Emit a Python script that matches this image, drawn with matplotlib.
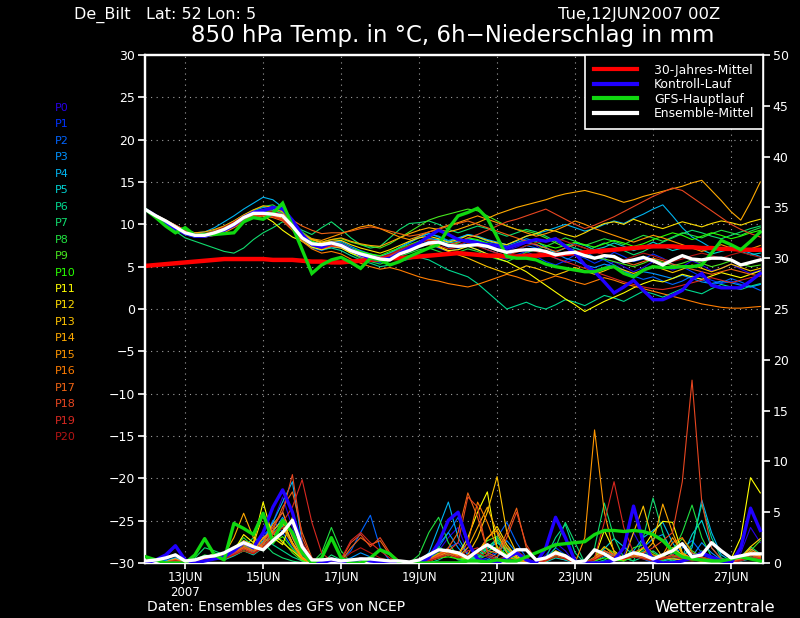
import matplotlib
matplotlib.use("Agg")
import matplotlib.pyplot as plt
import numpy as np
from matplotlib.lines import Line2D

# 6-hourly forecast steps from Tue,12JUN2007 00Z
steps = np.arange(64)
days = steps * 6 / 24.0

tick_days = [1, 3, 5, 7, 9, 11, 13, 15]
tick_labels = ["13JUN\n2007", "15JUN", "17JUN", "19JUN", "21JUN", "23JUN", "25JUN", "27JUN"]

member_names = ["P%d" % i for i in range(21)]
member_colors = ["#2800e6", "#0032ff", "#0064ff", "#0092ff", "#00b4f0", "#00d2d2",
                 "#00d890", "#10dc6e", "#20e040", "#46e61e", "#28ff00", "#ffff00",
                 "#ffdc00", "#ffc400", "#ffaa00", "#ff9600", "#ff7c00", "#f06414",
                 "#e84620", "#d82820", "#b41414"]

legend_labels = ["30-Jahres-Mittel", "Kontroll-Lauf", "GFS-Hauptlauf", "Ensemble-Mittel"]
legend_colors = ["#ff0000", "#2000ff", "#10d810", "#ffffff"]

# ---- 850 hPa temperature (degC) ----
t_clim = [5.1, 5.2, 5.3, 5.4, 5.5, 5.6, 5.7, 5.8,
          5.9, 5.9, 5.9, 5.9, 5.9, 5.8, 5.8, 5.8,
          5.7, 5.6, 5.6, 5.5, 5.5, 5.6, 5.7, 5.8,
          5.9, 6.0, 6.0, 6.1, 6.2, 6.3, 6.4, 6.5,
          6.6, 6.5, 6.4, 6.3, 6.3, 6.2, 6.2, 6.3,
          6.3, 6.4, 6.4, 6.5, 6.6, 6.7, 6.8, 6.9,
          7.0, 7.1, 7.2, 7.3, 7.4, 7.4, 7.4, 7.3,
          7.3, 7.2, 7.2, 7.1, 7.1, 7.0, 7.0, 7.0]
t_ctrl = [11.7, 11.0, 10.2, 9.5, 8.9, 8.6, 8.6, 8.9,
          9.3, 9.9, 10.8, 11.4, 11.6, 12.0, 11.8, 10.5,
          8.8, 7.6, 7.3, 7.8, 7.6, 7.0, 6.4, 6.0,
          5.8, 6.0, 6.6, 7.2, 7.8, 8.6, 9.3, 8.8,
          8.2, 8.0, 7.8, 7.6, 7.5, 7.2, 7.6, 7.9,
          8.2, 8.0, 8.3, 7.4, 6.6, 5.2, 4.4, 3.2,
          1.9, 2.6, 3.4, 2.2, 1.1, 1.1, 1.6, 2.2,
          3.5, 4.2, 2.8, 2.5, 2.5, 2.5, 3.3, 4.2]
t_gfs = [11.7, 10.8, 9.8, 9.0, 9.6, 8.7, 8.8, 8.8,
         8.9, 9.0, 10.3, 10.8, 10.6, 11.3, 12.5, 9.8,
         7.0, 4.2, 5.2, 5.8, 6.1, 5.5, 4.8, 6.0,
         5.8, 5.2, 5.6, 6.2, 6.7, 7.2, 7.6, 9.5,
         11.0, 11.4, 11.9, 10.7, 8.5, 6.2, 6.0, 6.0,
         5.8, 5.3, 5.0, 4.8, 4.6, 4.4, 4.4, 4.8,
         5.0, 4.2, 3.8, 4.6, 5.0, 4.9, 4.9, 5.0,
         5.0, 5.2, 6.6, 8.1, 7.6, 7.0, 8.0, 9.1]
t_mean = [11.7, 11.0, 10.4, 9.7, 9.0, 8.7, 8.7, 9.0,
          9.4, 10.0, 10.8, 11.3, 11.3, 11.2, 11.0, 9.8,
          8.4, 7.7, 7.6, 7.8, 7.5, 6.9, 6.5, 6.2,
          5.9, 5.8, 6.5, 6.9, 7.4, 7.8, 7.9, 7.5,
          7.4, 7.5, 7.6, 7.4, 7.0, 6.7, 6.9, 7.0,
          7.0, 6.8, 6.4, 6.6, 6.7, 6.3, 6.0, 6.3,
          6.2, 5.6, 5.8, 6.1, 5.7, 5.2, 5.8, 6.3,
          5.9, 5.8, 6.0, 6.0, 5.8, 5.2, 5.5, 5.8]

tp00 = [11.6, 11.0, 10.2, 9.6, 8.9, 8.6, 8.8, 9.1, 9.6, 10.2, 10.9, 11.5, 11.8, 11.6, 11.0, 9.6,
        8.2, 7.6, 7.4, 7.7, 7.4, 6.8, 6.4, 6.0, 5.7, 6.2, 6.8, 7.4, 8.0, 8.4, 8.1, 7.6,
        7.8, 8.3, 8.0, 7.6, 7.2, 6.9, 7.3, 7.8, 7.5, 6.6, 6.0, 5.5, 5.8, 5.2, 4.6, 4.9,
        5.6, 5.0, 4.4, 4.9, 5.6, 5.1, 4.6, 5.0, 5.7, 5.2, 4.5, 4.8, 5.3, 4.7, 4.2, 4.6]
tp01 = [11.7, 11.1, 10.4, 9.8, 9.2, 8.8, 8.6, 8.8, 9.2, 9.8, 10.5, 11.0, 11.3, 11.5, 11.3, 10.0,
        8.6, 7.8, 7.2, 7.5, 7.3, 6.6, 6.1, 5.7, 5.5, 5.9, 6.5, 7.0, 7.6, 7.7, 7.2, 6.8,
        7.1, 7.4, 7.0, 6.5, 6.1, 5.9, 6.4, 6.8, 6.2, 5.6, 5.2, 5.7, 6.4, 6.0, 5.4, 5.9,
        6.7, 6.2, 5.6, 5.9, 6.5, 6.0, 5.3, 5.0, 4.4, 3.8, 3.4, 3.0, 3.3, 2.9, 2.6, 2.9]
tp02 = [11.7, 11.0, 10.3, 9.7, 9.1, 8.7, 8.5, 8.7, 9.1, 9.7, 10.4, 11.0, 11.4, 11.2, 10.9, 9.5,
        8.0, 7.2, 6.9, 7.3, 7.2, 6.7, 6.4, 6.1, 5.9, 6.3, 6.9, 7.3, 7.6, 8.0, 7.8, 7.3,
        7.5, 7.9, 7.6, 7.0, 6.6, 6.3, 6.9, 7.5, 7.2, 6.8, 6.2, 6.6, 7.2, 6.8, 6.1, 5.8,
        5.2, 4.6, 3.9, 3.5, 3.8, 3.3, 2.9, 3.3, 3.9, 3.5, 2.9, 3.1, 3.6, 3.2, 2.7, 2.2]
tp03 = [11.7, 10.9, 10.2, 9.5, 8.8, 8.5, 8.6, 9.0, 9.5, 10.1, 10.9, 11.6, 12.0, 11.8, 11.2, 10.1,
        8.7, 7.9, 7.5, 7.9, 8.0, 7.4, 6.9, 6.5, 6.2, 6.6, 7.2, 7.8, 8.4, 8.9, 8.6, 8.1,
        8.4, 8.8, 8.5, 8.0, 7.7, 7.4, 7.8, 8.3, 8.0, 7.3, 6.6, 6.0, 5.7, 5.2, 4.9, 5.3,
        5.0, 4.4, 4.0, 4.4, 4.2, 3.9, 3.6, 4.0, 3.6, 3.2, 3.0, 3.3, 3.1, 2.8, 2.6, 2.9]
tp04 = [11.7, 11.1, 10.5, 9.9, 9.3, 9.0, 9.1, 9.6, 10.3, 11.0, 11.8, 12.5, 13.2, 12.9, 12.0, 10.6,
        9.0, 8.0, 7.6, 7.9, 7.8, 7.2, 6.7, 6.3, 6.1, 6.6, 7.3, 7.9, 8.6, 8.9, 8.5, 8.0,
        8.3, 8.8, 8.6, 8.2, 7.9, 7.6, 8.0, 8.6, 8.9, 9.2, 9.6, 10.0, 9.6, 9.2, 9.5, 10.0,
        10.4, 10.1, 10.7, 11.2, 11.8, 12.3, 11.0, 9.6, 8.5, 7.9, 7.2, 6.9, 7.4, 7.0, 6.6, 6.2]
tp05 = [11.6, 10.9, 10.2, 9.6, 9.0, 8.6, 8.5, 8.8, 9.3, 9.9, 10.6, 11.3, 11.7, 11.5, 10.9, 9.8,
        8.4, 7.6, 7.2, 7.6, 7.6, 7.0, 6.7, 6.4, 6.2, 6.6, 7.0, 7.5, 8.0, 8.3, 8.2, 7.8,
        8.0, 8.3, 8.1, 7.7, 7.4, 7.1, 7.5, 7.9, 7.6, 7.2, 6.7, 7.2, 7.8, 7.5, 7.0, 7.3,
        7.8, 7.4, 6.9, 7.3, 7.9, 7.4, 6.9, 7.2, 7.5, 7.0, 6.5, 6.8, 7.1, 6.8, 6.4, 6.6]
tp06 = [11.7, 11.0, 10.4, 9.8, 9.3, 8.9, 8.8, 9.0, 9.3, 9.8, 10.4, 10.9, 11.1, 11.0, 10.6, 9.4,
        8.1, 7.4, 7.0, 7.2, 6.9, 6.3, 5.8, 5.4, 5.0, 5.2, 5.6, 5.9, 6.1, 5.8, 5.2, 4.6,
        4.2, 3.8, 3.0, 2.0, 1.0, 0.0, 0.4, 0.8, 0.3, 0.0, 0.5, 1.1, 0.8, 0.4, 1.0, 1.6,
        1.3, 0.9, 1.5, 2.1, 1.8, 1.4, 1.9, 2.4, 2.1, 1.8, 2.4, 2.9, 2.6, 2.3, 2.7, 3.0]
tp07 = [11.7, 10.9, 10.0, 9.2, 8.4, 8.0, 7.6, 7.2, 6.8, 6.6, 7.2, 8.2, 9.0, 9.6, 10.3, 10.0,
        9.3, 8.8, 9.6, 10.3, 9.4, 8.4, 7.6, 7.2, 7.4, 8.4, 9.4, 10.1, 10.2, 10.4, 10.0, 9.4,
        9.0, 9.4, 9.8, 9.5, 9.0, 8.6, 9.0, 9.4, 9.1, 8.6, 8.0, 7.6, 7.2, 6.8, 7.3, 7.8,
        7.4, 6.9, 6.4, 6.8, 7.4, 7.9, 8.4, 8.9, 9.3, 9.0, 8.6, 8.3, 8.7, 9.1, 9.5, 9.8]
tp08 = [11.7, 11.0, 10.3, 9.7, 9.1, 8.8, 8.9, 9.3, 9.8, 10.4, 11.1, 11.7, 12.1, 12.3, 11.6, 10.2,
        8.7, 7.6, 7.0, 7.4, 7.3, 6.6, 6.0, 5.6, 5.3, 5.7, 6.2, 6.6, 7.0, 7.2, 6.8, 6.4,
        6.7, 7.1, 6.8, 6.3, 5.9, 5.6, 6.1, 6.7, 7.0, 7.4, 7.9, 8.4, 8.0, 7.5, 7.9, 8.3,
        8.0, 7.6, 8.2, 8.7, 8.4, 8.0, 8.5, 9.0, 8.7, 8.4, 8.9, 9.3, 9.0, 8.7, 9.2, 9.6]
tp09 = [11.7, 11.0, 10.2, 9.5, 8.8, 8.5, 8.6, 8.9, 9.3, 9.9, 10.5, 11.1, 11.4, 11.6, 11.4, 10.4,
        9.1, 8.3, 7.9, 8.2, 8.3, 7.9, 7.6, 7.4, 7.2, 7.7, 8.4, 9.1, 9.8, 10.5, 10.9, 11.2,
        11.5, 11.8, 11.6, 11.0, 10.4, 9.8, 9.4, 9.2, 8.9, 8.4, 7.8, 7.3, 6.9, 6.5, 6.1, 5.9,
        5.6, 5.3, 5.0, 5.4, 5.9, 5.5, 5.1, 5.4, 5.8, 5.4, 5.0, 5.3, 5.7, 5.3, 5.0, 5.2]
tp10 = [11.7, 11.1, 10.4, 9.8, 9.1, 8.8, 8.7, 9.0, 9.4, 10.0, 10.6, 11.2, 11.5, 11.3, 11.1, 10.0,
        8.7, 8.0, 7.6, 7.9, 7.8, 7.2, 6.8, 6.5, 6.3, 6.8, 7.2, 7.6, 8.0, 8.2, 7.9, 7.5,
        7.8, 8.4, 8.2, 7.8, 7.5, 7.3, 7.7, 8.1, 7.9, 7.5, 7.2, 7.5, 7.9, 7.6, 7.3, 7.7,
        8.1, 7.8, 7.4, 7.7, 8.2, 8.6, 9.0, 8.7, 8.2, 8.6, 9.0, 8.7, 8.3, 8.6, 9.0, 9.3]
tp11 = [11.7, 11.0, 10.3, 9.6, 9.0, 8.7, 8.8, 9.2, 9.7, 10.3, 10.9, 11.2, 11.0, 10.3, 9.3, 8.5,
        8.0, 7.3, 7.0, 7.4, 7.2, 6.6, 6.2, 5.8, 5.6, 6.0, 6.6, 7.1, 7.6, 7.8, 7.4, 6.9,
        7.0, 7.4, 7.0, 6.5, 6.0, 5.6, 5.0, 4.4, 3.6, 2.8, 2.0, 1.2, 0.5, -0.3, 0.3, 0.9,
        1.4, 1.9, 2.5, 3.0, 3.4, 3.2, 3.6, 4.1, 3.8, 3.5, 3.9, 4.3, 4.0, 3.7, 4.1, 4.5]
tp12 = [11.7, 11.0, 10.4, 9.8, 9.1, 8.8, 8.8, 9.1, 9.5, 10.0, 10.7, 11.3, 11.6, 11.9, 11.5, 10.2,
        8.9, 8.2, 7.8, 8.0, 8.1, 7.6, 7.2, 6.9, 6.6, 7.0, 7.5, 8.0, 8.4, 8.6, 8.3, 7.9,
        8.2, 8.7, 8.5, 8.1, 7.8, 7.6, 8.1, 8.6, 8.9, 9.4, 9.2, 8.8, 8.5, 9.0, 9.6, 10.1,
        10.3, 10.0, 10.6, 10.2, 9.8, 9.5, 9.9, 10.3, 10.0, 9.7, 10.1, 10.4, 10.2, 9.9, 10.3, 10.6]
tp13 = [11.7, 10.9, 10.2, 9.5, 8.9, 8.6, 8.6, 8.9, 9.3, 9.8, 10.4, 10.9, 11.2, 11.1, 10.7, 9.7,
        8.5, 7.8, 7.5, 7.8, 7.7, 7.1, 6.6, 6.2, 5.9, 6.2, 6.7, 7.1, 7.4, 7.6, 7.3, 6.8,
        6.4, 6.0, 5.5, 5.0, 4.6, 4.2, 4.6, 5.1, 4.8, 4.4, 4.0, 4.4, 4.9, 4.5, 4.1, 4.5,
        5.0, 4.6, 4.2, 4.6, 5.1, 4.7, 4.3, 4.7, 5.2, 4.8, 4.4, 4.8, 5.3, 4.9, 4.5, 4.8]
tp14 = [11.7, 11.1, 10.5, 9.9, 9.3, 9.0, 9.1, 9.4, 9.8, 10.4, 11.1, 11.7, 12.2, 12.0, 11.5, 10.3,
        8.9, 8.2, 7.9, 8.2, 8.4, 8.0, 7.7, 7.5, 7.4, 7.9, 8.4, 8.9, 9.3, 9.6, 9.4, 9.1,
        9.4, 9.8, 10.2, 10.7, 11.2, 11.6, 12.0, 12.3, 12.6, 12.9, 13.3, 13.6, 13.8, 14.0, 13.7, 13.4,
        13.0, 12.6, 12.9, 13.3, 13.6, 13.9, 14.2, 14.5, 14.9, 15.2, 14.0, 12.8, 11.5, 10.5, 12.6, 15.0]
tp15 = [11.7, 11.0, 10.3, 9.7, 9.0, 8.6, 8.5, 8.7, 9.0, 9.6, 10.3, 10.8, 11.2, 11.0, 10.6, 9.7,
        8.8, 8.3, 8.1, 8.5, 8.9, 9.3, 9.7, 9.9, 9.5, 9.0, 8.5, 8.2, 8.6, 9.1, 9.5, 9.9,
        10.2, 10.6, 11.0, 10.6, 10.2, 9.8, 9.4, 9.0, 8.6, 8.9, 9.3, 9.8, 10.4, 10.0, 9.5, 9.1,
        8.7, 8.3, 7.9, 8.3, 8.7, 8.4, 8.0, 7.6, 7.2, 6.8, 7.2, 7.6, 7.2, 6.8, 7.1, 7.5]
tp16 = [11.7, 11.0, 10.3, 9.6, 9.0, 8.7, 8.6, 8.8, 9.2, 9.7, 10.3, 10.8, 11.0, 10.8, 10.4, 9.3,
        8.0, 7.1, 6.6, 6.8, 6.5, 5.9, 5.4, 5.0, 4.7, 4.9, 4.6, 4.2, 3.8, 3.5, 3.3, 3.0,
        2.8, 2.6, 2.9, 3.3, 3.7, 4.1, 3.8, 3.4, 3.1, 3.5, 3.9, 3.6, 3.2, 2.9, 3.3, 3.7,
        3.4, 3.0, 2.7, 2.4, 2.1, 1.8, 1.5, 1.2, 0.9, 0.6, 0.4, 0.2, 0.1, 0.1, 0.2, 0.3]
tp17 = [11.7, 11.0, 10.4, 9.8, 9.2, 8.9, 8.8, 9.0, 9.4, 9.9, 10.5, 11.0, 11.2, 11.4, 11.2, 10.5,
        9.8, 9.3, 8.9, 9.0, 9.0, 9.2, 9.5, 9.7, 9.5, 9.2, 8.9, 8.6, 8.8, 9.1, 9.4, 9.8,
        10.1, 10.4, 10.0, 9.6, 9.2, 8.8, 8.4, 8.0, 7.6, 7.2, 6.8, 7.2, 7.6, 7.2, 6.8, 6.4,
        6.0, 5.6, 5.2, 5.6, 6.0, 5.7, 5.3, 5.0, 4.7, 4.4, 4.1, 4.4, 4.7, 4.4, 4.1, 3.9]
tp18 = [11.7, 11.1, 10.5, 9.9, 9.3, 8.9, 8.8, 9.0, 9.3, 9.8, 10.4, 10.9, 11.2, 11.0, 10.6, 9.6,
        8.3, 7.5, 7.1, 7.4, 7.3, 6.8, 6.4, 6.1, 5.9, 6.3, 6.8, 7.3, 7.8, 8.2, 8.0, 7.6,
        7.9, 8.4, 8.8, 9.3, 9.8, 10.3, 10.6, 11.0, 11.4, 11.8, 11.2, 10.6, 10.0, 9.5, 9.9, 10.4,
        10.9, 11.5, 12.1, 12.7, 13.3, 13.8, 14.3, 14.0, 13.2, 12.4, 11.6, 10.8, 10.0, 9.4, 8.9, 8.5]
tp19 = [11.7, 11.0, 10.3, 9.7, 9.1, 8.8, 8.7, 8.9, 9.2, 9.7, 10.3, 10.8, 11.1, 10.9, 10.5, 9.4,
        8.2, 7.5, 7.2, 7.5, 7.4, 6.9, 6.5, 6.2, 6.0, 6.4, 6.9, 7.3, 7.6, 7.8, 7.5, 7.1,
        7.3, 7.7, 7.4, 7.0, 6.6, 6.3, 6.7, 7.1, 6.8, 6.4, 6.0, 5.6, 5.2, 4.8, 4.4, 4.0,
        3.6, 3.2, 2.9, 2.6, 2.4, 2.3, 2.5, 2.8, 3.1, 3.4, 3.7, 3.4, 3.1, 3.4, 3.7, 3.9]
tp20 = [11.7, 11.0, 10.4, 9.8, 9.2, 8.9, 8.9, 9.2, 9.7, 10.3, 11.0, 11.5, 11.7, 11.5, 11.1, 10.0,
        8.6, 7.8, 7.4, 7.7, 7.6, 7.0, 6.6, 6.3, 6.1, 6.5, 7.0, 7.5, 7.9, 8.1, 7.8, 7.4,
        7.6, 8.0, 7.7, 7.3, 6.9, 6.6, 7.0, 7.5, 7.8, 8.1, 8.4, 8.0, 7.6, 7.2, 6.8, 6.4,
        6.1, 5.8, 6.2, 6.6, 6.3, 5.9, 5.6, 5.9, 6.3, 6.6, 6.3, 6.0, 6.4, 6.7, 6.4, 6.1]

# ---- 6h precipitation (mm) ----
p_ctrl = [0, 0.3, 0.8, 1.7, 0.3, 0, 0.2, 0.4, 0.6, 1.2, 2.0, 1.5, 3.0, 5.5, 7.2, 5.0,
          1.5, 0.2, 0, 0.3, 0.2, 0, 0.4, 0.2, 0.1, 0, 0, 0, 0, 0.5, 2.0, 4.2,
          5.0, 2.0, 0.4, 0.1, 0, 0.5, 1.0, 0.3, 0, 1.5, 4.5, 2.5, 0.2, 0, 0, 0,
          0.3, 1.5, 5.6, 2.0, 0.3, 0, 0, 0.2, 0.5, 1.0, 0.6, 0.2, 0, 1.5, 5.4, 3.2]
p_gfs = [0.6, 0.3, 0, 0, 0, 0.8, 2.4, 0.8, 0.3, 3.9, 3.4, 2.8, 4.9, 2.0, 4.2, 3.0,
         1.0, 0, 0.5, 2.5, 0.5, 0, 0, 0.5, 1.3, 0.9, 0, 0, 0, 0, 0, 0,
         0, 0.2, 0.2, 0.1, 0.3, 0.2, 0.2, 0.6, 1.0, 1.4, 1.8, 1.9, 2.0, 2.1, 2.8, 3.2,
         3.2, 3.1, 3.2, 3.1, 2.8, 2.2, 1.2, 0.6, 0.4, 0.3, 0.2, 0.2, 0.4, 0.6, 0.4, 0.2]
p_mean = [0.2, 0.3, 0.5, 0.8, 0.2, 0.3, 0.6, 0.7, 1.0, 1.5, 2.0, 1.6, 1.3, 2.2, 3.0, 4.2,
          1.6, 0.3, 0.3, 0.4, 0.2, 0.3, 0.4, 0.4, 0.3, 0.2, 0.2, 0.1, 0.3, 0.8, 1.3, 1.2,
          1.0, 0.5, 1.2, 1.8, 1.2, 0.6, 1.3, 1.3, 0.3, 0.5, 1.0, 0.7, 0.1, 0.2, 1.3, 0.9,
          0.3, 0.6, 1.0, 0.8, 0.4, 0.8, 1.2, 1.9, 0.6, 0.8, 2.0, 1.2, 0.5, 0.7, 0.9, 0.9]

pp00 = [0, 0.2, 0.6, 1.6, 0.2, 0, 0.3, 0.5, 0.4, 0.8, 1.5, 1.0, 2.5, 4.0, 6.5, 3.5,
        0.8, 0, 0, 0.2, 0, 0, 0.3, 0.1, 0, 0, 0, 0, 0, 0.3, 1.2, 2.5,
        3.5, 1.0, 0.3, 0, 0, 0.4, 0.8, 0.2, 0, 0.8, 2.0, 1.2, 0, 0, 0, 0,
        0.2, 0.8, 3.0, 1.2, 0.2, 0, 0, 0.3, 0.6, 0.8, 0.4, 0, 0, 1.0, 3.5, 2.0]
pp01 = [0, 0, 0.3, 0.9, 0.1, 0, 0.2, 0.6, 0.3, 1.0, 2.2, 1.5, 2.8, 3.5, 5.0, 2.5,
        0.5, 0, 0, 0, 0.1, 0, 0.2, 0, 0, 0, 0, 0, 0, 0.2, 0.8, 1.5,
        2.0, 0.8, 0.2, 0.5, 1.2, 0.4, 0.2, 0, 0, 0.5, 1.5, 0.8, 0, 0, 0, 0.2,
        0.4, 0.6, 1.2, 0.6, 0.1, 0, 0.2, 0.5, 1.0, 0.6, 0.2, 0, 0.1, 0.6, 1.4, 0.8]
pp02 = [0, 0.1, 0.2, 0.5, 0, 0, 0.4, 0.8, 0.5, 1.2, 1.8, 1.0, 2.0, 4.2, 3.0, 1.5,
        0.4, 0, 0, 0.5, 0.3, 1.2, 3.0, 4.7, 1.5, 0.2, 0, 0, 0, 0.3, 1.5, 3.0,
        4.5, 1.8, 0.5, 0.8, 2.5, 4.0, 2.0, 0.5, 0, 0.3, 1.0, 0.5, 0, 0, 0.4, 1.2,
        0.6, 0.3, 0.8, 0.4, 0, 0.2, 0.8, 1.5, 2.2, 1.0, 0.4, 0.1, 0, 0.3, 0.8, 0.4]
pp03 = [0, 0, 0.1, 0.4, 0, 0.1, 0.5, 0.9, 0.6, 1.5, 2.0, 1.2, 1.8, 3.0, 4.5, 2.8,
        0.6, 0, 0, 0, 0.2, 0.5, 1.0, 0.6, 0.2, 0, 0, 0, 0.1, 0.5, 1.8, 3.0,
        1.5, 0.4, 0.2, 0.3, 1.0, 2.2, 1.0, 0.2, 0, 0.2, 0.6, 0.3, 0, 0, 0.2, 0.6,
        0.9, 0.5, 0.7, 1.5, 2.4, 2.8, 1.2, 0.3, 0.6, 2.0, 1.0, 0.3, 0.1, 0.2, 0.5, 0.3]
pp04 = [0, 0, 0.2, 0.5, 0.1, 0, 0.3, 0.6, 0.4, 0.9, 1.4, 1.0, 2.2, 4.0, 6.0, 8.0,
        2.0, 0.2, 0, 0, 0, 0.2, 0.5, 0.2, 0, 0, 0, 0, 0.2, 1.0, 3.5, 6.0,
        2.5, 0.8, 0.3, 0.2, 0.6, 1.5, 0.8, 0.2, 0, 0.3, 0.8, 0.5, 0, 0, 0.3, 0.8,
        0.5, 0.3, 1.2, 2.5, 3.2, 4.0, 2.0, 0.6, 1.5, 6.2, 3.0, 0.8, 0.2, 0.3, 0.6, 0.3]
pp05 = [0, 0, 0.1, 0.3, 0, 0, 0.2, 0.5, 0.3, 0.7, 1.2, 0.8, 1.5, 2.8, 3.6, 2.0,
        0.4, 0, 0, 0, 0, 0, 0.1, 0, 0, 0, 0, 0, 0, 0.2, 0.6, 1.0,
        0.6, 0.3, 0.5, 1.4, 2.0, 1.2, 0.5, 0.2, 0, 0.1, 0.5, 0.3, 0, 0, 0.5, 1.4,
        2.4, 1.6, 0.8, 0.5, 0.3, 0.2, 0.4, 0.6, 2.8, 4.2, 1.5, 0.4, 0, 0.2, 0.4, 0.2]
pp06 = [0, 0, 0, 0.2, 0, 0, 0.4, 1.0, 0.6, 1.2, 2.0, 1.4, 2.5, 1.8, 1.2, 0.6,
        0.2, 0, 0, 0.4, 0.2, 0, 0, 0, 0, 0, 0, 0, 0, 0, 0.3, 0.8,
        0.4, 0.2, 0.6, 1.5, 2.4, 1.2, 0.6, 0.2, 0, 0.5, 2.5, 3.8, 1.0, 0, 0, 0.3,
        0.8, 0.5, 0.2, 0.6, 1.2, 0.5, 0.2, 0.5, 1.8, 5.8, 2.5, 0.5, 0.1, 0.4, 1.0, 0.6]
pp07 = [0, 0, 0, 0, 0, 0.5, 1.5, 1.2, 0.8, 1.0, 1.5, 2.5, 2.0, 1.0, 0.5, 0.2,
        0, 0, 0, 0.8, 0.3, 0, 0, 0, 0, 0, 0, 0, 0, 0.6, 1.6, 1.0,
        0.3, 0.2, 0.8, 1.6, 2.2, 1.0, 0.4, 0.2, 0, 0.3, 1.5, 4.0, 2.0, 0, 1.5, 5.9,
        2.5, 0.5, 0.2, 2.5, 6.4, 3.0, 0.6, 0.2, 0.5, 1.2, 0.5, 0.2, 0, 0.6, 1.6, 0.9]
pp08 = [0, 0, 0, 0.1, 0, 0.3, 0.8, 0.6, 0.5, 1.4, 2.5, 1.6, 1.2, 2.2, 3.8, 1.8,
        0.3, 0, 1.0, 3.5, 1.2, 0, 0, 0, 0, 0, 0, 0, 0.8, 3.0, 4.5, 2.0,
        0.6, 0.2, 0.3, 0.8, 1.4, 0.8, 0.3, 0.1, 0, 0.2, 0.8, 0.5, 0, 0, 0.3, 1.0,
        0.5, 0.2, 0.6, 1.2, 0.6, 0.2, 1.0, 3.0, 5.7, 2.5, 0.6, 0.2, 0, 0.3, 0.6, 0.4]
pp09 = [0, 0, 0.1, 0.3, 0, 0.2, 0.6, 0.9, 0.5, 1.0, 1.8, 1.2, 2.0, 2.6, 2.2, 1.0,
        0.2, 0, 0, 0.3, 0.1, 0, 0.1, 0, 0, 0, 0, 0, 0, 0.4, 1.0, 0.8,
        0.4, 0.3, 1.0, 2.2, 2.6, 1.4, 0.4, 0.1, 0, 0.4, 1.2, 0.8, 0.1, 0, 0.6, 1.6,
        1.0, 0.4, 1.5, 1.8, 1.0, 0.5, 1.4, 2.4, 1.2, 0.6, 0.3, 0.2, 0, 0.4, 1.2, 2.2]
pp10 = [0, 0, 0, 0.2, 0, 0, 0.3, 0.5, 0.4, 0.8, 1.2, 0.9, 1.6, 2.0, 2.6, 1.4,
        0.3, 0, 0, 0.2, 0, 0, 0, 0, 0, 0, 0, 0, 0, 0.2, 0.5, 0.6,
        0.4, 0.2, 0.4, 1.2, 1.6, 0.8, 0.3, 0, 0, 0.2, 0.6, 0.4, 0, 0, 0.2, 0.5,
        0.3, 0.2, 0.8, 1.4, 0.8, 0.4, 0.6, 0.8, 0.5, 0.3, 0.2, 0.1, 0, 0.3, 0.8, 0.5]
pp11 = [0, 0, 0.1, 0.4, 0, 0, 0.3, 0.8, 0.6, 1.2, 2.8, 2.0, 6.0, 2.5, 1.8, 4.5,
        1.0, 0, 0, 0.2, 0, 0, 0.2, 0.1, 0, 0, 0, 0, 0, 0.3, 0.9, 1.2,
        0.8, 2.5, 5.0, 7.0, 1.5, 0.4, 0.8, 0.2, 0, 0.3, 1.0, 0.6, 0, 0, 0.5, 3.2,
        1.2, 0.4, 0.6, 1.5, 3.0, 4.1, 4.0, 1.0, 0.4, 0.2, 0.1, 0, 0.4, 2.5, 8.4, 6.9]
pp12 = [0, 0, 0, 0.3, 0, 0.2, 0.5, 0.7, 0.6, 1.5, 2.2, 1.8, 4.8, 3.0, 2.0, 1.2,
        0.4, 0, 0, 0, 0, 0, 0.1, 0, 0, 0, 0, 0, 0, 0.2, 0.7, 1.1,
        0.6, 0.4, 1.0, 2.4, 3.6, 1.8, 0.6, 0.2, 0, 0.2, 0.8, 0.5, 0, 0, 0.4, 1.2,
        0.8, 0.5, 1.0, 0.7, 0.3, 0.8, 1.5, 0.8, 0.3, 0.2, 0.1, 0, 0.2, 0.5, 1.6, 2.4]
pp13 = [0, 0, 0.1, 0.2, 0, 0.1, 0.4, 0.6, 0.5, 1.0, 1.6, 1.2, 2.5, 3.2, 4.2, 2.0,
        0.5, 0, 0, 0, 0.1, 0, 0, 0, 0, 0, 0, 0, 0, 0.2, 0.5, 0.8,
        0.6, 0.8, 2.5, 5.0, 8.5, 3.0, 1.0, 0.3, 0, 0.3, 0.8, 0.5, 0, 0, 0.3, 0.8,
        0.5, 0.3, 3.0, 5.6, 2.0, 0.5, 0.4, 0.3, 0.5, 0.3, 0.1, 0, 0.1, 0.4, 1.0, 0.6]
pp14 = [0, 0, 0, 0.3, 0, 0.3, 0.6, 0.8, 0.8, 2.5, 4.9, 2.5, 1.5, 2.8, 4.0, 2.0,
        0.5, 0, 0, 0.2, 0.1, 0, 0, 0, 0, 0, 0, 0, 0, 0.2, 0.6, 1.0,
        0.6, 1.5, 3.5, 5.5, 3.0, 1.0, 0.5, 0.2, 0, 0.4, 1.2, 0.7, 0, 0, 0.5, 1.6,
        0.8, 0.4, 0.6, 1.0, 2.0, 5.8, 3.0, 0.8, 0.4, 0.2, 0.1, 0, 0.2, 0.6, 1.4, 0.8]
pp15 = [0, 0, 0.1, 0.4, 0, 0.1, 0.4, 0.6, 0.5, 1.0, 1.5, 1.0, 2.0, 3.8, 5.0, 2.5,
        0.6, 0, 0, 0.3, 0.1, 0, 0.3, 0.2, 0, 0, 0, 0, 0, 0.3, 0.8, 1.2,
        0.7, 0.5, 1.0, 2.5, 3.2, 1.5, 0.5, 0.2, 0, 0.3, 0.8, 0.5, 0, 2.5, 13.1, 5.0,
        1.0, 0.4, 0.8, 0.5, 0.2, 0.8, 2.5, 1.0, 0.4, 0.2, 0.1, 0, 0.2, 0.5, 1.2, 0.7]
pp16 = [0, 0, 0, 0.2, 0, 0.2, 0.5, 0.9, 0.6, 1.2, 1.8, 1.4, 2.4, 3.0, 3.5, 1.8,
        0.4, 0, 0, 0, 0, 0.2, 0.5, 0.3, 0.1, 0, 0, 0, 0, 0.3, 0.9, 1.4,
        0.8, 2.0, 6.0, 4.0, 1.5, 0.6, 0.3, 0.1, 0, 0.3, 0.9, 0.5, 0, 0, 0.4, 1.0,
        0.6, 0.3, 1.0, 1.5, 0.8, 0.5, 2.0, 2.5, 1.0, 0.5, 0.2, 0.1, 0.2, 0.4, 1.0, 0.6]
pp17 = [0, 0, 0, 0.3, 0, 0.1, 0.3, 0.6, 0.4, 0.8, 1.4, 1.0, 1.8, 3.2, 5.5, 7.0,
        3.0, 0.5, 0, 0, 0.2, 1.5, 2.5, 1.8, 2.2, 0.8, 0, 0, 0, 0.3, 0.7, 1.5,
        3.0, 6.9, 4.5, 1.2, 1.0, 3.0, 5.4, 1.5, 0.2, 0.4, 1.0, 0.6, 0, 0, 0.3, 0.9,
        0.6, 0.4, 0.8, 0.5, 0.2, 0.4, 0.8, 0.5, 0.3, 0.2, 0.1, 0, 0.1, 0.3, 0.8, 0.5]
pp18 = [0, 0, 0.1, 0.3, 0, 0.2, 0.4, 0.7, 0.5, 1.0, 1.6, 1.2, 2.0, 3.5, 5.0, 8.7,
        2.5, 0.4, 0, 0, 0.3, 2.0, 2.8, 1.6, 2.5, 1.0, 0.2, 0, 0, 0.3, 0.8, 1.2,
        2.0, 6.5, 5.5, 1.0, 0.6, 2.5, 5.0, 1.8, 0.3, 0.4, 1.0, 0.6, 0, 0, 0.5, 1.2,
        0.8, 0.5, 0.8, 1.0, 1.5, 2.2, 3.0, 8.0, 18.0, 6.0, 1.5, 0.4, 0.1, 0.3, 0.8, 0.5]
pp19 = [0, 0, 0, 0.2, 0, 0.1, 0.3, 0.5, 0.4, 0.9, 1.4, 1.0, 1.6, 2.8, 4.0, 5.5,
        8.2, 4.0, 1.0, 0.2, 0.4, 2.2, 3.0, 2.0, 1.2, 0.5, 0, 0, 0, 0.2, 0.6, 1.0,
        0.6, 1.2, 1.5, 0.8, 0.4, 0.6, 1.2, 0.5, 0, 0.3, 0.8, 0.5, 0, 0, 0.5, 4.0,
        8.0, 3.5, 1.0, 0.6, 0.3, 0.5, 0.8, 0.5, 0.3, 0.6, 0.3, 0.1, 0, 0.3, 0.6, 0.4]
pp20 = [0, 0, 0, 0.2, 0, 0.1, 0.3, 0.5, 0.4, 0.8, 1.2, 0.9, 1.5, 2.5, 3.5, 4.0,
        2.0, 0.5, 0, 0, 0.2, 1.0, 1.5, 1.0, 0.5, 0.2, 0, 0, 0, 0.2, 0.5, 0.8,
        0.5, 0.8, 1.0, 0.6, 0.3, 0.5, 1.0, 0.4, 0, 0.2, 0.6, 0.4, 0, 0, 0.3, 0.8,
        0.6, 0.4, 0.6, 0.4, 0.2, 0.4, 0.6, 0.4, 0.2, 0.4, 0.2, 0.1, 0, 0.2, 0.5, 0.3]

t_members = [tp00, tp01, tp02, tp03, tp04, tp05, tp06, tp07, tp08, tp09, tp10,
             tp11, tp12, tp13, tp14, tp15, tp16, tp17, tp18, tp19, tp20]
p_members = [pp00, pp01, pp02, pp03, pp04, pp05, pp06, pp07, pp08, pp09, pp10,
             pp11, pp12, pp13, pp14, pp15, pp16, pp17, pp18, pp19, pp20]

plt.rcParams['font.family'] = ['DejaVu Sans']

fig = plt.figure(figsize=(8.0, 6.18), dpi=100, facecolor='black')
ax = fig.add_axes([145 / 800, 1 - 563 / 618, 618 / 800, 508 / 618])
ax.set_facecolor('black')
ax2 = ax.twinx()

grid_kw = dict(color='#a0a0a0', lw=0.8, ls=(0, (1, 4)), zorder=0)
for d in tick_days:
    ax.axvline(d, **grid_kw)
for v in range(-25, 30, 5):
    ax.axhline(v, **grid_kw)

# ensemble members
for tv, pv, c in zip(t_members, p_members, member_colors):
    ax.plot(days, tv, color=c, lw=0.8, zorder=2)
    ax2.plot(days, pv, color=c, lw=0.8, zorder=2)

lw_main = [3.2, 2.4, 2.4, 2.4]
for tv, c, w in zip([t_clim, t_ctrl, t_gfs, t_mean], legend_colors, lw_main):
    ax.plot(days, tv, color=c, lw=w, zorder=3, solid_joinstyle='miter')
for pv, c in zip([p_ctrl, p_gfs, p_mean], legend_colors[1:]):
    ax2.plot(days, pv, color=c, lw=2.4, zorder=3)

ax.set_xlim(-0.03, 15.82)
ax.set_ylim(-30, 30)
ax2.set_ylim(0, 50)

ax.set_yticks(range(-30, 31, 5))
ax.set_yticklabels([("\u2212%d" % -v if v < 0 else "%d" % v) for v in range(-30, 31, 5)])
ax2.set_yticks(range(0, 51, 5))
ax.set_xticks(tick_days)
ax.set_xticklabels(tick_labels)

for a in (ax, ax2):
    for s in a.spines.values():
        s.set_color('white')
        s.set_linewidth(1.6)
    a.tick_params(colors='white', labelcolor='white', labelsize=9, width=1.2, length=5, direction='out')
ax.tick_params(axis='x', length=4, labelsize=8.5, pad=2)
ax.tick_params(axis='y', pad=2)
ax2.tick_params(axis='y', pad=2)

handles = [Line2D([0], [0], color=c, lw=3) for c in legend_colors]
leg = ax2.legend(handles, legend_labels, loc='upper right', bbox_to_anchor=(1.0, 1.0),
                 borderaxespad=0, fancybox=False, facecolor='black', edgecolor='white',
                 framealpha=1, fontsize=8.9, labelcolor='white', handlelength=3.5,
                 handletextpad=1.35, borderpad=0.7, labelspacing=0.12)
leg.get_frame().set_linewidth(1.2)
leg.set_zorder(10)

# member labels at the left
for k, (name, c) in enumerate(zip(member_names, member_colors)):
    fig.text(55 / 800, 1 - (108 + k * 16.45) / 618, name, color=c, fontsize=8,
             va='center', ha='left')

fig.text(74 / 800, 1 - 19 / 618, "De_Bilt   Lat: 52 Lon: 5", color='white', fontsize=11.5,
         va='baseline', ha='left')
fig.text(720 / 800, 1 - 19 / 618, "Tue,12JUN2007 00Z", color='white', fontsize=11.8,
         va='baseline', ha='right')
fig.text(453 / 800, 1 - 42 / 618, "850 hPa Temp. in \u00b0C, 6h\u2212Niederschlag in mm",
         color='white', fontsize=16.5, va='baseline', ha='center')
fig.text(147 / 800, 1 - 607 / 618, "Daten: Ensembles des GFS von NCEP", color='white',
         fontsize=10, va='center', ha='left')
fig.text(775 / 800, 1 - 607 / 618, "Wetterzentrale", color='white', fontsize=11.6,
         va='center', ha='right')

fig.savefig("out.png", dpi=100, facecolor='black')
